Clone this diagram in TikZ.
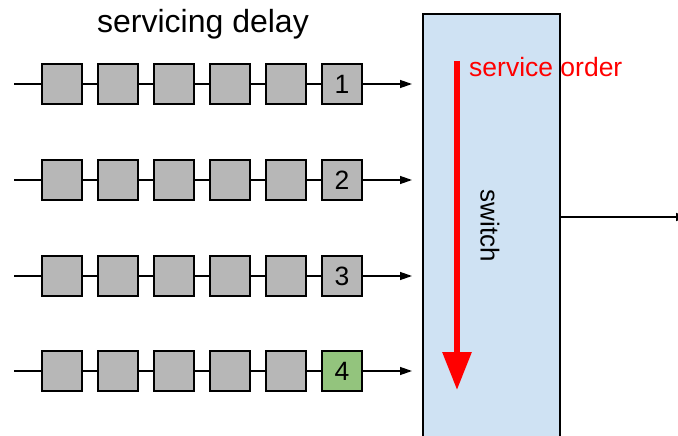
\documentclass[tikz,border=0pt]{standalone}
\usepackage{fontspec}
\setmainfont{Liberation Sans}
\usetikzlibrary{arrows.meta}
\definecolor{cellgray}{HTML}{B7B7B7}
\definecolor{cellgreen}{HTML}{93C47D}
\definecolor{switchblue}{HTML}{CFE2F3}
\definecolor{ordered}{HTML}{FF0000}
\begin{document}
\begin{tikzpicture}[x=1pt,y=-1pt,
  cell/.style={draw=black, line width=1.6pt, fill=cellgray, minimum size=40pt,
    inner sep=0pt, font=\fontsize{26.5}{30}\selectfont},
  link/.style={draw=black, line width=1.3pt},
  feed/.style={link, -{Triangle[length=12pt,width=8pt]}}]
\useasboundingbox (0,0) rectangle (678,436);

% title
\node (title) at (203,24) {\fontsize{32}{37}\selectfont servicing delay};

% switch block
\node[draw=black, line width=1.6pt, fill=switchblue, minimum width=137pt,
  minimum height=440pt, inner sep=0pt, anchor=north west] (switch) at (422,13) {};
\node[rotate=-90, font=\fontsize{26}{30}\selectfont] (switchlabel) at (490,226) {switch};

% service order arrow
\coordinate (ordtop) at (457,61);
\coordinate (ordbot) at (457,390);
\draw[draw=ordered, line width=6pt, -{Triangle[length=38pt,width=28pt]}] (ordtop) -- (ordbot);
\node[text=ordered, anchor=west, inner sep=0pt, font=\fontsize{26.5}{30}\selectfont]
  (ordlabel) at (469,67) {service order};

% output line
\coordinate (out) at (688,217);
\draw[feed] (switch.east |- out) -- (out);

% the four queues
\foreach \r/\y/\lab in {1/84/1, 2/180/2, 3/276/3, 4/371/4}{
  \coordinate (s\r) at (14,\y);
  \coordinate (e\r) at (412,\y);
  \foreach \c in {1,...,5}{
    \node[cell] (q\r\c) at ({62+56*(\c-1)},\y) {};
  }
  \ifnum\r=4
    \node[cell, fill=cellgreen] (q\r6) at (342,\y) {\lab};
  \else
    \node[cell] (q\r6) at (342,\y) {\lab};
  \fi
  \draw[link] (s\r) -- (q\r1);
  \draw[link] (q\r1) -- (q\r2);
  \draw[link] (q\r2) -- (q\r3);
  \draw[link] (q\r3) -- (q\r4);
  \draw[link] (q\r4) -- (q\r5);
  \draw[link] (q\r5) -- (q\r6);
  \draw[feed] (q\r6) -- (e\r);
}
\end{tikzpicture}
\end{document}
